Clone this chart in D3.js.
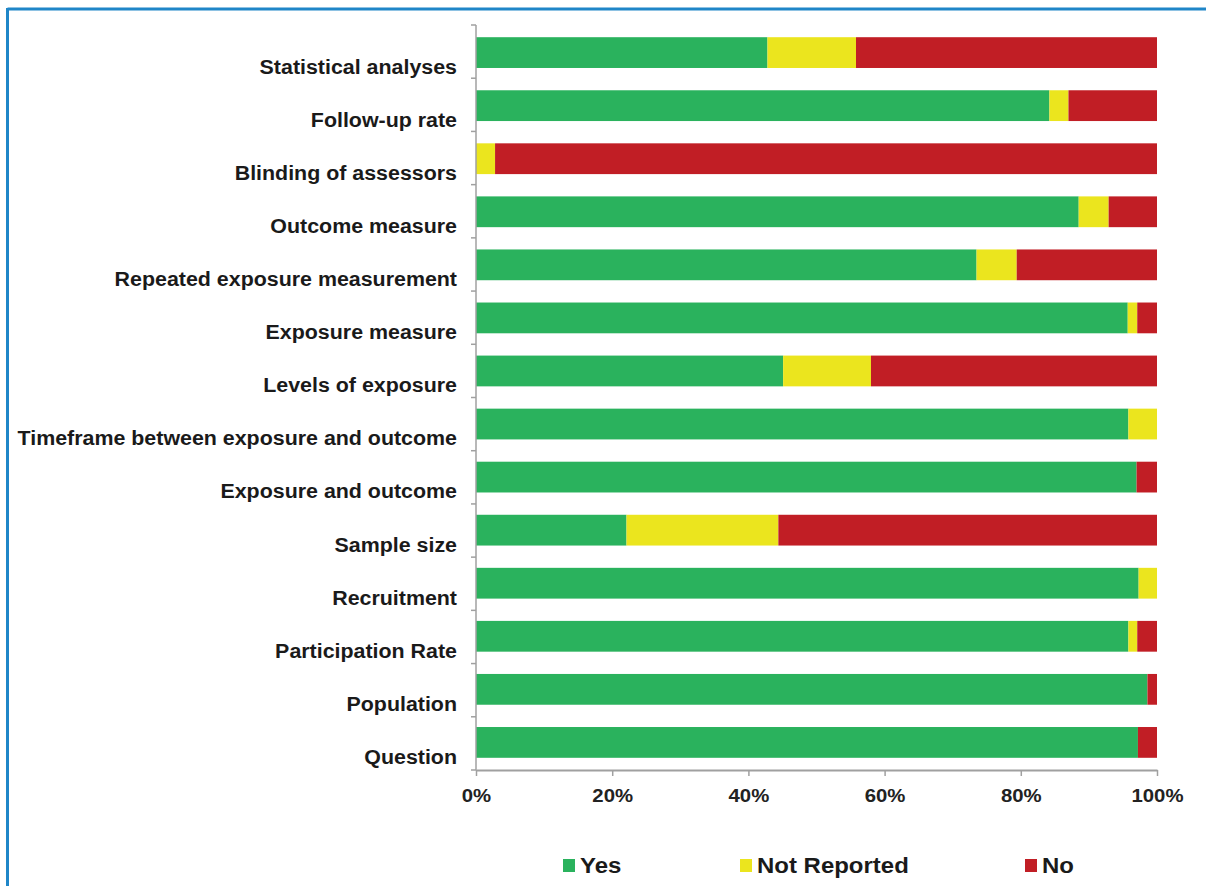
<!DOCTYPE html>
<html><head><meta charset="utf-8">
<script src="https://cdn.jsdelivr.net/npm/d3@7"></script>
<style>
html,body{margin:0;padding:0;background:#fff;}
svg{display:block;font-family:"Liberation Sans",Arial,sans-serif;}
</style></head>
<body>
<svg id="chart" width="1206" height="886"></svg>
<script>
const categories = ["Statistical analyses","Follow-up rate","Blinding of assessors","Outcome measure","Repeated exposure measurement","Exposure measure","Levels of exposure","Timeframe between exposure and outcome","Exposure and outcome","Sample size","Recruitment","Participation Rate","Population","Question"];
const yesValues = [42.8,84.2,0,88.5,73.5,95.7,45.1,95.8,97.0,22.1,97.3,95.8,98.6,97.2];
const notReportedValues = [13.0,2.8,2.8,4.4,5.9,1.4,12.9,4.2,0,22.3,2.7,1.3,0,0];
const noValues = [44.2,13.0,97.2,7.1,20.6,2.9,42.0,0,3.0,55.6,0,2.9,1.4,2.8];
const seriesNames = ["Yes","Not Reported","No"];
const seriesColors = ["#2ab25d","#ebe51e","#c11e25"];
const tickValues = [0,20,40,60,80,100];

const svg = d3.select("#chart");
// frame border
svg.append("line").attr("x1",7.5).attr("x2",1206).attr("y1",9).attr("y2",9).attr("stroke","#1f86c8").attr("stroke-width",3);
svg.append("line").attr("x1",7.5).attr("x2",7.5).attr("y1",8).attr("y2",886).attr("stroke","#1f86c8").attr("stroke-width",3);

const plotLeft=476, plotRight=1157, plotTop=25, plotBottom=770;
const x = d3.scaleLinear().domain([0,100]).range([plotLeft,plotRight]);
const y = d3.scaleBand().domain(categories).range([plotTop,plotBottom]).paddingInner(0.42).paddingOuter(0.23);

const rows = categories.map((c,i)=>({cat:c, Yes:yesValues[i], "Not Reported":notReportedValues[i], No:noValues[i]}));
const stack = d3.stack().keys(seriesNames)(rows);

svg.append("g").selectAll("g").data(stack).join("g")
  .attr("fill",(d,i)=>seriesColors[i])
  .selectAll("rect").data(d=>d).join("rect")
  .attr("x",d=>x(d[0])).attr("y",d=>y(d.data.cat))
  .attr("width",d=>Math.max(0,x(d[1])-x(d[0]))).attr("height",y.bandwidth());

// x axis
const xAxis = svg.append("g").attr("transform",`translate(0,${plotBottom})`)
  .call(d3.axisBottom(x).tickValues(tickValues).tickFormat(d=>d+"%").tickSize(6).tickSizeOuter(0));
xAxis.select(".domain").attr("stroke","#a0a0a0").attr("stroke-width",2);
xAxis.selectAll(".tick line").attr("stroke","#a0a0a0").attr("stroke-width",1.5);
xAxis.selectAll(".tick text").attr("font-size",18).attr("font-weight","bold").attr("fill","#222")
  .attr("y",0).attr("dy",null).attr("font-family","Liberation Sans, Arial, sans-serif")
  .attr("transform","translate(0,32) scale(1.13,1)");

// y axis line with boundary ticks
const yAxisG = svg.append("g");
yAxisG.append("line").attr("x1",plotLeft).attr("x2",plotLeft).attr("y1",plotTop).attr("y2",plotBottom).attr("stroke","#a0a0a0").attr("stroke-width",1.5);
const boundaries = d3.range(categories.length+1).map(i=>plotTop + i*(plotBottom-plotTop)/categories.length);
yAxisG.selectAll("line.tk").data(boundaries).join("line").attr("class","tk")
  .attr("x1",plotLeft-5).attr("x2",plotLeft).attr("y1",d=>d).attr("y2",d=>d).attr("stroke","#a0a0a0").attr("stroke-width",1.5);
yAxisG.selectAll("text").data(categories).join("text")
  .attr("transform",d=>`translate(${plotLeft-19},${y(d)+y.bandwidth()+6}) scale(1.07,1)`)
  .attr("text-anchor","end").attr("font-size",20).attr("font-weight","bold").attr("fill","#1a1a1a")
  .text(d=>d);

// legend
const legendX = [563,740,1025];
const lg = svg.append("g").selectAll("g").data(seriesNames).join("g")
  .attr("transform",(d,i)=>`translate(${legendX[i]},859)`);
lg.append("rect").attr("width",12).attr("height",13).attr("fill",(d,i)=>seriesColors[i]);
lg.append("text").attr("transform","translate(17,14) scale(1.09,1)").attr("font-size",22).attr("font-weight","bold").attr("fill","#1a1a1a").text(d=>d);
</script>
</body></html>
